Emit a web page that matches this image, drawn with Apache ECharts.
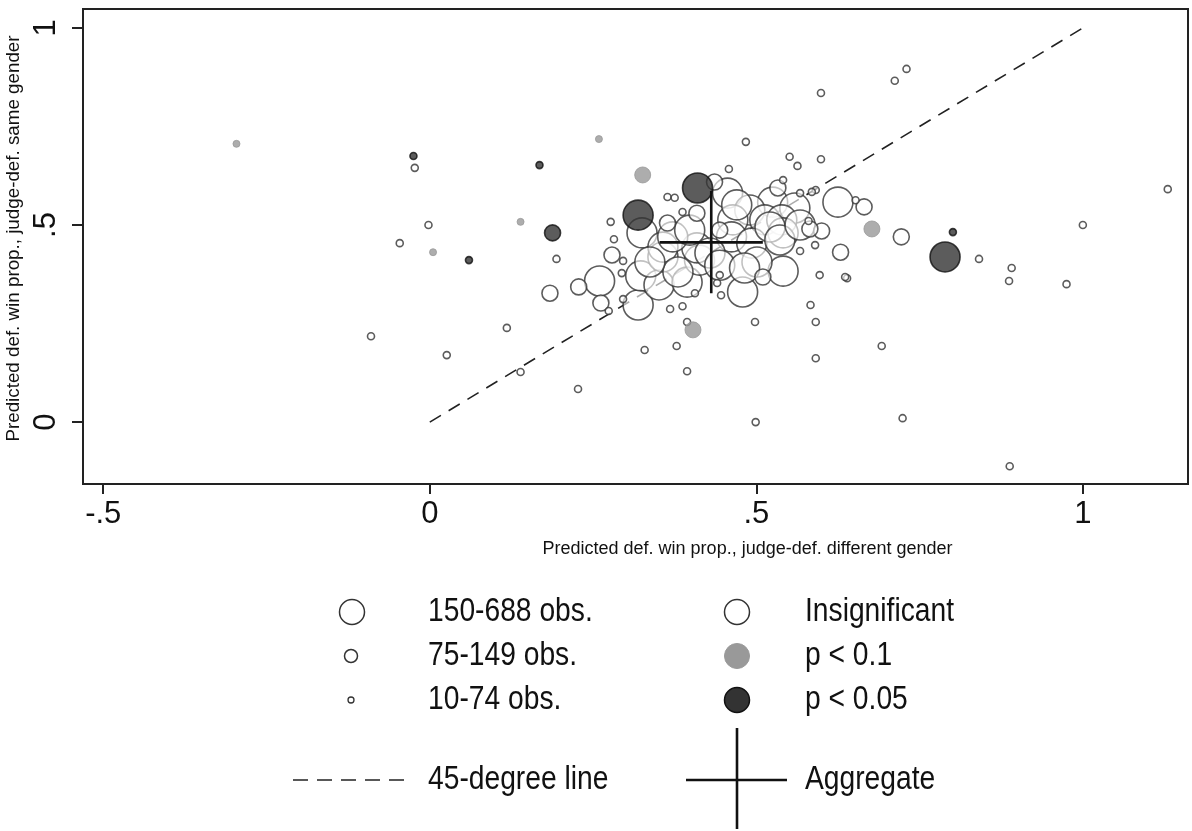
<!DOCTYPE html>
<html>
<head>
<meta charset="utf-8">
<script src="https://cdn.jsdelivr.net/npm/echarts@6/dist/echarts.min.js"></script>
<style>
html,body{margin:0;padding:0;background:#fff;}
#chart{width:1192px;height:831px;}
</style>
</head>
<body>
<div id="chart"></div>
<script>
// ---- data: [x = win prop. different gender, y = win prop. same gender] ----
var insigLarge = [
  [0.625,0.558],[0.541,0.383],[0.479,0.330],[0.260,0.358],[0.319,0.297],[0.323,0.371],
  [0.351,0.348],[0.394,0.355],[0.357,0.419],[0.413,0.411],[0.325,0.480],[0.357,0.444],
  [0.456,0.581],[0.525,0.558],[0.559,0.543],[0.490,0.538],[0.513,0.513],[0.539,0.513],
  [0.464,0.513],[0.462,0.470],[0.493,0.454],[0.541,0.480],[0.470,0.551],[0.521,0.495],
  [0.536,0.462],[0.409,0.442],[0.372,0.470],[0.380,0.381],[0.429,0.429],[0.444,0.398],
  [0.501,0.406],[0.337,0.406],[0.398,0.487],[0.482,0.391],[0.567,0.500]
];
var insigMedium = [
  [0.665,0.546],[0.722,0.470],[0.629,0.431],[0.600,0.485],[0.582,0.490],[0.184,0.327],
  [0.228,0.343],[0.279,0.424],[0.262,0.302],[0.409,0.530],[0.364,0.505],[0.436,0.609],
  [0.533,0.594],[0.444,0.487],[0.510,0.368]
];
var insigSmall = [
  [-0.023,0.645],[-0.002,0.500],[-0.046,0.454],[-0.090,0.218],[0.026,0.170],[0.118,0.239],
  [0.139,0.127],[0.194,0.414],[0.227,0.084],[0.730,0.896],[0.712,0.866],[0.599,0.835],
  [0.484,0.711],[0.551,0.673],[0.563,0.650],[0.599,0.667],[0.541,0.614],[0.458,0.642],
  [0.591,0.589],[0.585,0.584],[0.567,0.581],[0.652,0.563],[0.580,0.510],[0.590,0.449],
  [0.567,0.434],[1.130,0.591],[1.000,0.500],[0.841,0.414],[0.891,0.391],[0.887,0.358],
  [0.975,0.350],[0.597,0.373],[0.639,0.365],[0.636,0.368],[0.583,0.297],[0.591,0.254],
  [0.692,0.193],[0.591,0.162],[0.724,0.010],[0.888,-0.112],[0.329,0.183],[0.378,0.193],
  [0.394,0.129],[0.499,0.000],[0.498,0.254],[0.446,0.322],[0.440,0.353],[0.444,0.373],
  [0.296,0.409],[0.294,0.378],[0.274,0.282],[0.296,0.312],[0.368,0.287],[0.387,0.294],
  [0.394,0.254],[0.406,0.327],[0.364,0.571],[0.375,0.569],[0.387,0.533],[0.277,0.508],
  [0.282,0.464]
];
var p10Medium = [[0.326,0.627],[0.403,0.234],[0.677,0.490]];
var p10Small  = [[-0.296,0.706],[0.005,0.431],[0.139,0.508],[0.259,0.718]];
var p05Large  = [[0.319,0.525],[0.410,0.594],[0.789,0.419]];
var p05Medium = [[0.188,0.480]];
var p05Small  = [[-0.025,0.675],[0.060,0.411],[0.168,0.652],[0.801,0.482]];
// 45-degree line endpoints and aggregate estimate with its extent
var diagLine = [[0,0],[1,1]];
var aggregate = {x:0.431, y:0.456, xLo:0.352, xHi:0.510, yLo:0.327, yHi:0.586};
var xTicks = [-0.5, 0, 0.5, 1];
var yTicks = [0, 0.5, 1];

function fmt(v){
  if (Math.abs(v) < 1e-9) return '0';
  var s = String(Math.round(v*100)/100);
  return s.replace(/^(-?)0\./, '$1.');
}

var FONT = '"Liberation Sans", Arial, Helvetica, sans-serif';
var SIZE = {large:30, medium:16, small:7};
var styleInsig = {color:'rgba(255,255,255,0.78)', borderColor:'#333', borderWidth:1.6};
var styleP10 = {color:'#999', borderColor:'#999', borderWidth:1};
var styleP05 = {color:'#333', borderColor:'#111', borderWidth:1.6};

function sc(name, data, size, style, z){
  return {type:'scatter', name:name, data:data, symbol:'circle', symbolSize:size,
    itemStyle:style, z:z, silent:true, emphasis:{disabled:true}};
}

var chart = echarts.init(document.getElementById('chart'), null, {renderer:'canvas'});
var legendText = {fontFamily:FONT, fontSize:34, fill:'#111', verticalAlign:'middle'};
function legendLabel(x, y, text){
  return {type:'text', x:x, y:y, scaleX:0.83, style:Object.assign({text:text}, legendText)};
}

chart.setOption({
  animation:false,
  backgroundColor:'#fff',
  grid:{left:83, right:4, top:9, bottom:347, show:true, borderColor:'#222', borderWidth:2,
    backgroundColor:'transparent', containLabel:false, outerBoundsMode:'none'},
  xAxis:{
    type:'value', min:-0.531, max:1.161,
    name:'Predicted def. win prop., judge-def. different gender',
    nameLocation:'middle', nameGap:56,
    nameTextStyle:{fontFamily:FONT, fontSize:18, color:'#111', padding:[0,0,0,224]},
    axisLine:{show:true, onZero:false, lineStyle:{color:'#222', width:2}},
    axisTick:{show:true, customValues:xTicks, length:10, lineStyle:{color:'#222', width:2}},
    axisLabel:{show:true, customValues:xTicks, formatter:fmt, margin:15, fontFamily:FONT, fontSize:31, color:'#111'},
    splitLine:{show:false}
  },
  yAxis:{
    type:'value', min:-0.157, max:1.048,
    name:'Predicted def. win prop., judge-def. same gender',
    nameLocation:'middle', nameGap:53, nameRotate:90,
    nameTextStyle:{fontFamily:FONT, fontSize:18.8, color:'#111', padding:[0,0,0,16]},
    axisLine:{show:true, onZero:false, lineStyle:{color:'#222', width:2}},
    axisTick:{show:true, customValues:yTicks, length:11, lineStyle:{color:'#222', width:2}},
    axisLabel:{show:true, customValues:yTicks, formatter:fmt, rotate:90, margin:21, fontFamily:FONT, fontSize:31, color:'#111'},
    splitLine:{show:false}
  },
  series:[
    {type:'line', name:'45-degree line', data:diagLine, symbol:'none', silent:true, z:1,
      lineStyle:{color:'#222', width:1.6, type:[13,9]}},
    sc('150-688 obs.', insigLarge, SIZE.large, styleInsig, 2),
    sc('75-149 obs.', insigMedium, SIZE.medium, styleInsig, 3),
    sc('10-74 obs.', insigSmall, SIZE.small, styleInsig, 4),
    sc('p < 0.1 medium', p10Medium, SIZE.medium, styleP10, 5),
    sc('p < 0.1 small', p10Small, SIZE.small, styleP10, 5),
    sc('p < 0.05 large', p05Large, SIZE.large, styleP05, 6),
    sc('p < 0.05 medium', p05Medium, SIZE.medium, styleP05, 6),
    sc('p < 0.05 small', p05Small, SIZE.small, styleP05, 6),
    {type:'line', name:'Aggregate h', data:[[aggregate.xLo,aggregate.y],[aggregate.xHi,aggregate.y]],
      symbol:'none', silent:true, z:10, lineStyle:{color:'#111', width:2.6}},
    {type:'line', name:'Aggregate v', data:[[aggregate.x,aggregate.yLo],[aggregate.x,aggregate.yHi]],
      symbol:'none', silent:true, z:10, lineStyle:{color:'#111', width:2.6}}
  ],
  graphic:[
    // size legend
    {type:'circle', shape:{cx:352, cy:612, r:12.5}, style:{fill:'#fff', stroke:'#333', lineWidth:1.5}},
    {type:'circle', shape:{cx:351, cy:656, r:6.5}, style:{fill:'#fff', stroke:'#333', lineWidth:1.5}},
    {type:'circle', shape:{cx:351, cy:700, r:3}, style:{fill:'#fff', stroke:'#333', lineWidth:1.3}},
    legendLabel(428, 612, '150-688 obs.'),
    legendLabel(428, 656, '75-149 obs.'),
    legendLabel(428, 700, '10-74 obs.'),
    // significance legend
    {type:'circle', shape:{cx:737, cy:612, r:12.5}, style:{fill:'#fff', stroke:'#333', lineWidth:1.5}},
    {type:'circle', shape:{cx:737, cy:656, r:12.5}, style:{fill:'#999', stroke:'#999', lineWidth:1}},
    {type:'circle', shape:{cx:737, cy:700, r:12.5}, style:{fill:'#333', stroke:'#111', lineWidth:1.5}},
    legendLabel(805, 612, 'Insignificant'),
    legendLabel(805, 656, 'p < 0.1'),
    legendLabel(805, 700, 'p < 0.05'),
    // line legend
    {type:'line', shape:{x1:293, y1:780, x2:412, y2:780}, style:{stroke:'#222', lineWidth:1.5, lineDash:[15,9]}},
    legendLabel(428, 780, '45-degree line'),
    {type:'line', shape:{x1:686, y1:780, x2:787, y2:780}, style:{stroke:'#111', lineWidth:2.6}},
    {type:'line', shape:{x1:737, y1:728, x2:737, y2:829}, style:{stroke:'#111', lineWidth:2.6}},
    legendLabel(805, 780, 'Aggregate')
  ]
});
</script>
</body>
</html>
